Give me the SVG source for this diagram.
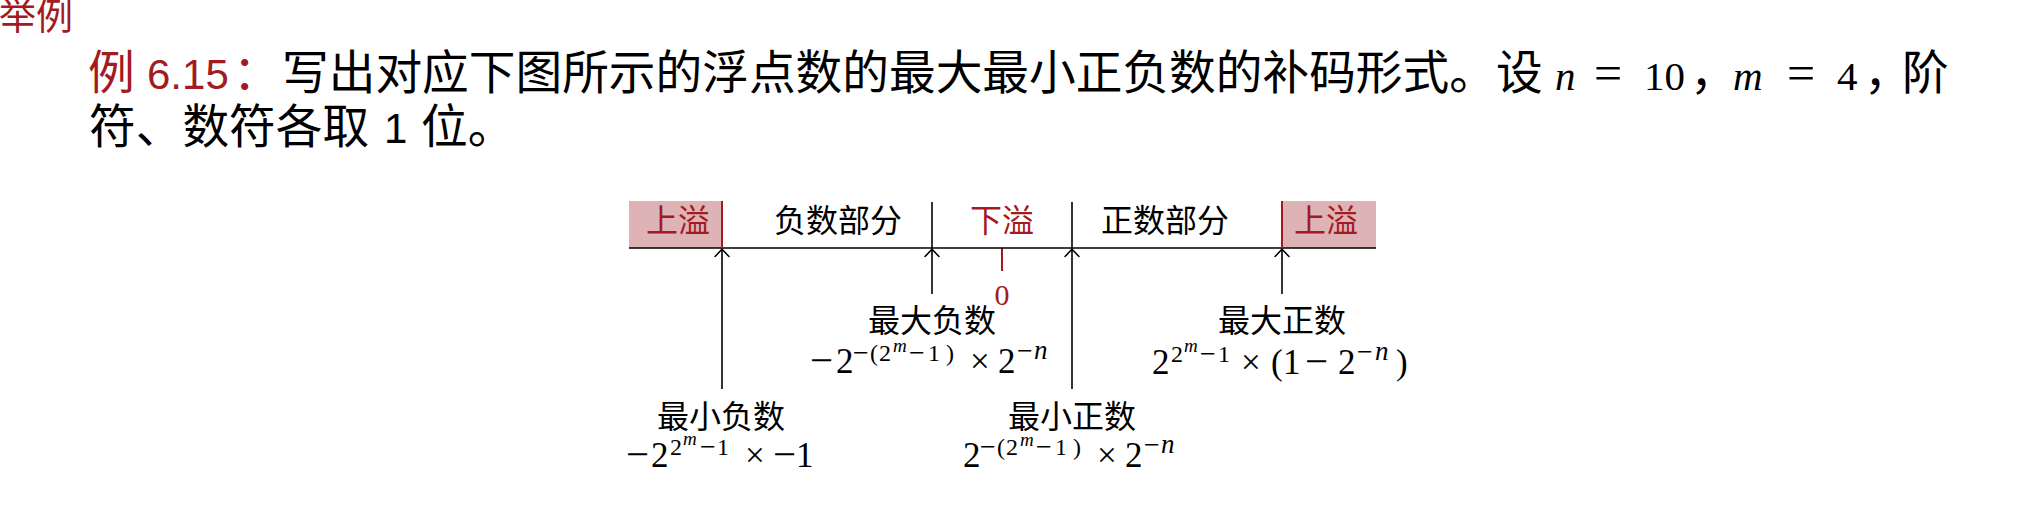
<svg xmlns="http://www.w3.org/2000/svg" width="2026" height="506" viewBox="0 0 2026 506">
<style>
.cjk{font-family:"Noto Sans CJK SC","Noto Sans",sans-serif;}
.red{fill:#A31A21;}
.blk{fill:#000;}
.t1{font-size:46.7px;}
.lab{font-size:32px;text-anchor:middle;}
.m{font-family:"Liberation Serif","DejaVu Serif",serif;font-size:35px;fill:#000;}
.hm{font-family:"Liberation Serif","DejaVu Serif",serif;font-size:41px;fill:#000;}
.eq{font-size:50px;}
.mi{font-size:41px;}
.s{font-size:24px;}
.sn{font-size:27px;font-style:italic;}
.smi{font-size:28px;}
.ss{font-size:19px;font-style:italic;}
.it{font-style:italic;}
.ln{stroke:#000;stroke-width:1.6;fill:none;}
.rln{stroke:#A31A21;stroke-width:2;fill:none;}
.box{fill:#DEB3B6;}
</style>
<defs>
<marker id="ah" markerUnits="userSpaceOnUse" markerWidth="20" markerHeight="20" viewBox="-10 -10 20 20" refX="0" refY="0" orient="auto" overflow="visible">
<path d="M -7.5 -7 C -4 -3.5 -1.5 -1.2 0 0 C -1.5 1.2 -4 3.5 -7.5 7" fill="none" stroke="#000" stroke-width="1.5" stroke-linecap="round"/>
</marker>
</defs>
<rect width="2026" height="506" fill="#fff"/>

<g id="header">
<text class="cjk red" x="-1" y="30" font-size="37">举例</text>
<text class="cjk red t1" x="88" y="89">例</text>
<text class="red" x="147" y="89" font-family="Liberation Sans,Arial,sans-serif" font-size="42">6.15</text>
<text class="cjk red t1" x="233" y="89">：</text>
<text class="cjk blk t1" x="282" y="89">写出对应下图所示的浮点数的最大最小正负数的补码形式。设</text>
<text class="hm" y="90"><tspan x="1555" class="it">n</tspan><tspan x="1594" class="eq">=</tspan><tspan x="1644">10</tspan><tspan x="1733" class="it">m</tspan><tspan x="1787" class="eq">=</tspan><tspan x="1837">4</tspan></text>
<text class="cjk blk t1" x="1690" y="89">，</text>
<text class="cjk blk t1" x="1864" y="89">，</text>
<text class="cjk blk t1" x="1902" y="89">阶</text>
<text class="cjk blk t1" x="89" y="143">符、数符各取</text>
<text class="blk" x="384" y="143" font-family="Liberation Sans,Arial,sans-serif" font-size="42">1</text>
<text class="cjk blk t1" x="421" y="143">位。</text>
</g>

<g id="overflow-left">
<rect class="box" x="629" y="201" width="93" height="47"/>
<text class="cjk red lab" x="678" y="232">上溢</text>
</g>
<g id="negative-part">
<text class="cjk blk lab" x="838" y="232">负数部分</text>
</g>
<g id="underflow">
<text class="cjk red lab" x="1002" y="232">下溢</text>
</g>
<g id="positive-part">
<text class="cjk blk lab" x="1165" y="232">正数部分</text>
</g>
<g id="overflow-right">
<rect class="box" x="1282" y="201" width="94" height="47"/>
<text class="cjk red lab" x="1326" y="232">上溢</text>
</g>
<g id="zero">
<line class="rln" x1="1002" y1="248" x2="1002" y2="271"/>
<text class="red" x="1002" y="305" font-family="Liberation Serif,serif" font-size="30" text-anchor="middle">0</text>
</g>

<g id="connectors">
<line class="ln" x1="629" y1="248" x2="1376" y2="248"/>
<line class="rln" x1="722" y1="201" x2="722" y2="248"/>
<line class="rln" x1="1282" y1="201" x2="1282" y2="248"/>
<line class="ln" x1="932" y1="202" x2="932" y2="248"/>
<line class="ln" x1="1072" y1="202" x2="1072" y2="248"/>
<line class="ln" x1="722" y1="389" x2="722" y2="249" marker-end="url(#ah)"/>
<line class="ln" x1="932" y1="294" x2="932" y2="249" marker-end="url(#ah)"/>
<line class="ln" x1="1072" y1="389" x2="1072" y2="249" marker-end="url(#ah)"/>
<line class="ln" x1="1282" y1="294" x2="1282" y2="249" marker-end="url(#ah)"/>
</g>

<g id="max-negative">
<text class="cjk blk lab" x="932" y="332">最大负数</text>
<text class="m"><tspan class="mi" x="810" y="374">−</tspan><tspan x="836" y="373">2</tspan><tspan class="smi" x="853" y="362">−</tspan><tspan class="s" x="870" y="361">(</tspan><tspan class="s" x="879" y="361">2</tspan><tspan class="ss" x="893" y="352">m</tspan><tspan class="smi" x="909" y="362">−</tspan><tspan class="s" x="928" y="361">1</tspan><tspan class="s" x="946" y="361">)</tspan><tspan x="970" y="373">×</tspan><tspan x="998" y="373">2</tspan><tspan class="smi" x="1017" y="360">−</tspan><tspan class="sn" x="1034" y="359">n</tspan></text>
</g>

<g id="max-positive">
<text class="cjk blk lab" x="1282" y="332">最大正数</text>
<text class="m"><tspan x="1152" y="374">2</tspan><tspan class="s" x="1171" y="362">2</tspan><tspan class="ss" x="1184" y="352">m</tspan><tspan class="smi" x="1200" y="363">−</tspan><tspan class="s" x="1218" y="362">1</tspan><tspan x="1241" y="374">×</tspan><tspan x="1271" y="374">(</tspan><tspan x="1283" y="374">1</tspan><tspan class="mi" x="1305" y="375">−</tspan><tspan x="1338" y="374">2</tspan><tspan class="smi" x="1357" y="361">−</tspan><tspan class="sn" x="1375" y="360">n</tspan><tspan x="1396" y="374">)</tspan></text>
</g>

<g id="min-negative">
<text class="cjk blk lab" x="721" y="428">最小负数</text>
<text class="m"><tspan class="mi" x="626" y="468">−</tspan><tspan x="651" y="467">2</tspan><tspan class="s" x="670" y="455">2</tspan><tspan class="ss" x="683" y="445">m</tspan><tspan class="smi" x="700" y="456">−</tspan><tspan class="s" x="717" y="455">1</tspan><tspan x="745" y="467">×</tspan><tspan class="mi" x="773" y="468">−</tspan><tspan x="796" y="467">1</tspan></text>
</g>

<g id="min-positive">
<text class="cjk blk lab" x="1072" y="428">最小正数</text>
<text class="m"><tspan x="963" y="467">2</tspan><tspan class="smi" x="980" y="456">−</tspan><tspan class="s" x="997" y="455">(</tspan><tspan class="s" x="1006" y="455">2</tspan><tspan class="ss" x="1020" y="446">m</tspan><tspan class="smi" x="1036" y="456">−</tspan><tspan class="s" x="1055" y="455">1</tspan><tspan class="s" x="1073" y="455">)</tspan><tspan x="1097" y="467">×</tspan><tspan x="1125" y="467">2</tspan><tspan class="smi" x="1144" y="454">−</tspan><tspan class="sn" x="1161" y="453">n</tspan></text>
</g>
</svg>
